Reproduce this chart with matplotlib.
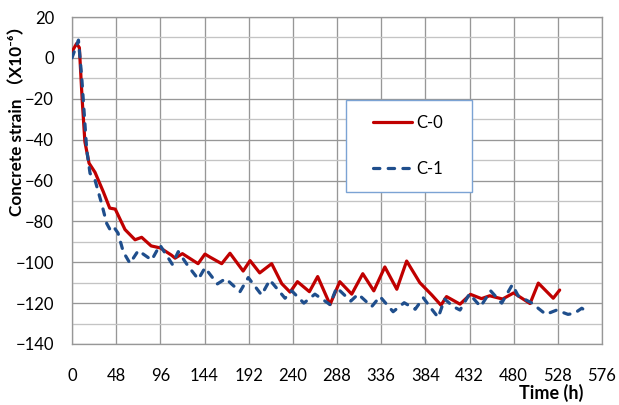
import matplotlib
matplotlib.use("Agg")
import matplotlib.pyplot as plt
from matplotlib.patches import Rectangle
from matplotlib.ticker import MultipleLocator

# C-0 readings (time in h, strain in 1e-6)
t_c0 = [0, 5, 8, 11, 14, 18.5, 25, 34, 41, 47, 57.6, 68.5, 75.7, 86, 96, 108, 112,
        120, 137, 144.5, 150, 162.7, 171.7, 186, 193.5, 204, 217, 228, 237, 245,
        258, 267, 280.4, 291, 304, 316, 328, 340, 353, 363.7, 378, 391, 401, 407,
        421.7, 433, 445, 454, 468, 480, 497.8, 506.8, 523, 530]
s_c0 = [3, 7, 5, -20, -41, -51.5, -56, -65.5, -73.5, -74, -84, -89, -87.8, -92, -93,
        -96.5, -98, -95.8, -100.7, -96, -97.5, -100.7, -95.6, -104.3, -99.2, -105.2,
        -100.7, -110.5, -114.6, -109.5, -114.4, -107, -120.7, -109.5, -115.6, -105.6,
        -114, -102.3, -113.2, -99.4, -110, -116, -121, -116.8, -120.5, -115.7, -117.8,
        -116.4, -118, -115, -120.2, -110.2, -117.6, -113.6]

# C-1 readings
t_c1 = [0, 7, 10.5, 16, 19.6, 25, 32, 37.7, 41.3, 45, 50, 55.8, 63, 72, 86.6, 95.6,
        109, 115.5, 126.4, 137.3, 144.5, 158, 167, 182.6, 191.6, 206, 215, 231.5,
        238.8, 252, 264, 280.4, 287.6, 303, 311, 325.7, 334.7, 349, 361, 373, 381.8,
        391, 398, 405, 414.4, 421.7, 432, 444, 455, 467, 478.5, 485, 498.8, 515,
        526.7, 539, 546, 554, 557]
s_c1 = [0, 8.7, -9, -45, -56.5, -59.8, -71, -81, -84, -82.5, -85.7, -95, -100.5,
        -94.3, -98.9, -91.6, -101, -94.8, -102, -108.3, -102.7, -110.6, -108, -114.4,
        -107.5, -116, -108.7, -117.6, -114, -120, -115.6, -120.7, -112.4, -119, -115.6,
        -121.7, -116.8, -124.2, -119.8, -123, -117.4, -123, -127, -118, -121.7, -123.4,
        -115.5, -121.7, -114, -120, -111, -116.5, -119.7, -125.5, -123.4, -125.5, -125,
        -122.5, -123.4]

x_ticks = list(range(0, 577, 48))

plt.rcParams['font.family'] = ['Lato', 'Noto Sans CJK SC', 'DejaVu Sans']

fig = plt.figure(figsize=(6.19, 4.05), dpi=100)
ax = fig.add_axes([72 / 619, 1 - 344 / 405, 530 / 619, 327 / 405])

ax.plot(t_c0, s_c0, color='#C00000', lw=2.3, solid_capstyle='round',
        solid_joinstyle='round', label='C-0', zorder=3)
ax.plot(t_c1, s_c1, color='#1F4E8C', lw=2.3, dashes=(2, 2.6),
        dash_capstyle='round', dash_joinstyle='round', label='C-1', zorder=4)

ax.set_xlim(0, 576)
ax.set_ylim(-140, 20)
ax.set_xticks(x_ticks)
ax.yaxis.set_major_locator(MultipleLocator(20))
ax.yaxis.set_minor_locator(MultipleLocator(10))
ax.grid(which='major', color='#979797', lw=0.95)
ax.grid(which='minor', axis='y', color='#C4C4C4', lw=0.95)
ax.set_axisbelow(True)
for sp in ax.spines.values():
    sp.set_color('#979797')
    sp.set_linewidth(0.95)

ax.tick_params(axis='both', which='both', length=0, labelsize=12)
ax.tick_params(axis='x', pad=17)
ax.tick_params(axis='y', pad=13)

fig.text(17 / 619, 1 - 117 / 405, 'Concrete strain （X10⁻⁶）', rotation=90,
         ha='center', va='center', fontsize=12.3, fontweight='bold')
fig.text(583 / 619, 1 - 393 / 405, 'Time (h)', ha='right', va='center',
         fontsize=13, fontweight='bold')

# legend box drawn separately to match the wide padding
box = Rectangle((346 / 619, 1 - 191.7 / 405), 125.7 / 619, 91.7 / 405,
                transform=fig.transFigure, facecolor='white',
                edgecolor='#7BA3D4', lw=1.0, zorder=5, clip_on=False)
ax.add_patch(box)
leg = ax.legend(loc='center', bbox_to_anchor=(408 / 619, 1 - 145.6 / 405),
                bbox_transform=fig.transFigure, frameon=False, fontsize=12,
                handlelength=2.3, handletextpad=0.25, labelspacing=1.8,
                borderpad=0)
leg.set_zorder(6)

fig.savefig('out.png', dpi=100)
